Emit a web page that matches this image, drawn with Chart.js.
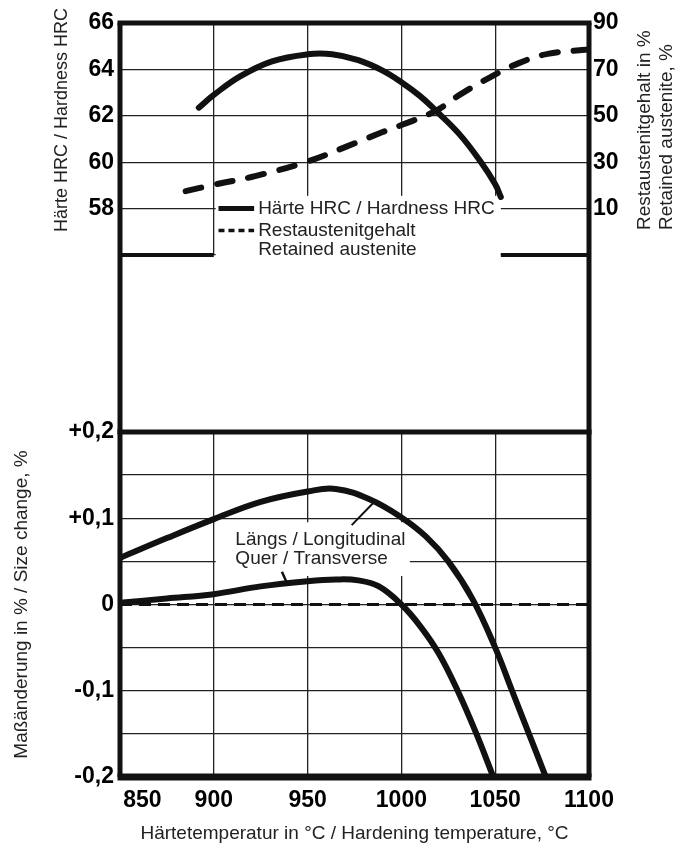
<!DOCTYPE html>
<html>
<head>
<meta charset="utf-8">
<script src="https://cdn.jsdelivr.net/npm/chart.js@4.4.1/dist/chart.umd.min.js"></script>
<style>
  html, body { margin: 0; padding: 0; background: #fff; }
  #wrap { position: relative; width: 682px; height: 845px; }
  #wrap canvas { position: absolute; left: 0; top: 0; }
</style>
</head>
<body>
<div id="wrap">
  <canvas id="sizechart" width="682" height="845"></canvas>
  <canvas id="hardchart" width="682" height="845"></canvas>
</div>
<script>
// top panel: hardness and retained austenite vs hardening temperature
const hardnessTemp = [892, 900, 914, 931, 950, 963, 977, 990, 1000, 1010, 1018, 1031, 1042, 1050, 1053];
const hardnessHRC  = [62.35, 62.9, 63.7, 64.35, 64.65, 64.65, 64.4, 63.95, 63.45, 62.85, 62.25, 61.2, 60.05, 59.05, 58.5];
const austeniteTemp = [885, 900, 922, 950, 970, 990, 1000, 1018, 1031, 1047, 1062, 1078, 1100];
const austenitePct  = [17.5, 20.3, 24, 30.3, 36.5, 43, 46, 52, 59, 66.5, 72.5, 76.7, 78.6];

// bottom panel: size change
const longTemp   = [850, 875, 900, 925, 950, 965, 983, 1000, 1013, 1025, 1038, 1050, 1059, 1068, 1077];
const longChange = [0.054, 0.077, 0.099, 0.119, 0.131, 0.134, 0.122, 0.101, 0.079, 0.05, 0.006, -0.05, -0.1, -0.15, -0.2];
const transTemp   = [850, 875, 900, 925, 950, 965, 977, 988, 1000, 1010, 1020, 1030, 1040, 1049];
const transChange = [0.002, 0.007, 0.012, 0.021, 0.027, 0.029, 0.028, 0.021, 0.0, -0.025, -0.057, -0.1, -0.15, -0.2];
const zeroTemp   = [850, 1100];
const zeroChange = [0, 0];

const hrcTicks = [58, 60, 62, 64, 66];
const austeniteTicks = [10, 30, 50, 70, 90];
const changeTicks = [0.2, 0.1, 0, -0.1, -0.2];

const legendLines = ['Härte HRC / Hardness HRC', 'Restaustenitgehalt', 'Retained austenite'];
const curveNotes = ['Längs / Longitudinal', 'Quer / Transverse'];

// page layout
const W = 682, H = 845;
const PLOT_LEFT = 120, PLOT_RIGHT = 589;
const TOP_Y = 23, TOP_BOTTOM = 255;
const BOT_TOP = 432, BOT_BOTTOM = 777;

const FAMILY = "'Liberation Sans', Arial, sans-serif";
Chart.defaults.font.family = FAMILY;
const tickFont = { size: 23, weight: 'bold' };
const gridStyle = { color: '#222', lineWidth: 1.3, drawTicks: false };

const pts = (xs, ys) => xs.map((x, i) => ({ x: x, y: ys[i] }));

function line(ctx, x1, y1, x2, y2, w) {
  ctx.beginPath();
  ctx.lineWidth = w;
  ctx.moveTo(x1, y1);
  ctx.lineTo(x2, y2);
  ctx.stroke();
}

const hardnessDecor = {
  id: 'hardnessDecor',
  beforeDatasetsDraw(chart) {
    const { ctx, scales: { x, y } } = chart;
    // white box behind the legend
    ctx.save();
    ctx.fillStyle = '#fff';
    const x0 = x.getPixelForValue(901), x1 = x.getPixelForValue(1053);
    const y0 = y.getPixelForValue(58.55);
    ctx.fillRect(x0, y0, x1 - x0, TOP_BOTTOM + 10 - y0);
    ctx.restore();
  },
  afterDatasetsDraw(chart) {
    const { ctx, chartArea: a, scales: { x, y } } = chart;
    ctx.save();
    ctx.strokeStyle = '#111';
    // legend
    const lx0 = x.getPixelForValue(902.5), lx1 = x.getPixelForValue(921.5);
    const ly = y.getPixelForValue(58);
    line(ctx, lx0, ly, lx1, ly, 5);
    ctx.setLineDash([6, 4]);
    line(ctx, lx0, ly + 22, lx1, ly + 22, 3.5);
    ctx.setLineDash([]);
    ctx.fillStyle = '#222';
    ctx.font = '19px ' + FAMILY;
    ctx.textBaseline = 'middle';
    ctx.textAlign = 'left';
    legendLines.forEach((t, i) => ctx.fillText(t, lx1 + 4, ly + [0, 22, 41][i]));

    // frame
    ctx.strokeStyle = '#111';
    line(ctx, a.left - 2.5, a.top, a.right + 2.5, a.top, 5);
    line(ctx, a.left, a.top, a.left, BOT_TOP, 5);
    line(ctx, a.right, a.top, a.right, BOT_TOP, 5);
    line(ctx, a.left, a.bottom, x.getPixelForValue(900), a.bottom, 4);
    line(ctx, x.getPixelForValue(1053), a.bottom, a.right, a.bottom, 4);

    // axis titles
    ctx.fillStyle = '#222';
    ctx.font = '18px ' + FAMILY;
    ctx.translate(62, 120);
    ctx.rotate(-Math.PI / 2);
    ctx.textAlign = 'center';
    ctx.fillText('Härte HRC / Hardness HRC', 0, 0);
    ctx.font = '19px ' + FAMILY;
    ctx.textAlign = 'left';
    ['Restaustenitgehalt in %', 'Retained austenite, %'].forEach((t, i) => {
      ctx.setTransform(1, 0, 0, 1, 0, 0);
      ctx.translate(645 + i * 22, 230);
      ctx.rotate(-Math.PI / 2);
      ctx.fillText(t, 0, 0);
    });
    ctx.restore();
  }
};

const sizeDecor = {
  id: 'sizeDecor',
  beforeDatasetsDraw(chart) {
    const { ctx, scales: { x, y } } = chart;
    ctx.save();
    // white label box over the grid
    const bx0 = x.getPixelForValue(901), bx1 = x.getPixelForValue(1004.5);
    const by0 = y.getPixelForValue(0.0955), by1 = y.getPixelForValue(0.033);
    ctx.fillStyle = '#fff';
    ctx.beginPath();
    ctx.roundRect(bx0, by0, bx1 - bx0, by1 - by0, 8);
    ctx.fill();
    ctx.fillStyle = '#222';
    ctx.font = '19px ' + FAMILY;
    ctx.textBaseline = 'middle';
    ctx.textAlign = 'left';
    const tx = x.getPixelForValue(911.5);
    ctx.fillText(curveNotes[0], tx, y.getPixelForValue(0.075));
    ctx.fillText(curveNotes[1], tx, y.getPixelForValue(0.053));
    // leader lines to the curves
    ctx.strokeStyle = '#111';
    line(ctx, x.getPixelForValue(973.5), y.getPixelForValue(0.092),
              x.getPixelForValue(986), y.getPixelForValue(0.12), 2);
    line(ctx, x.getPixelForValue(936.3), y.getPixelForValue(0.038),
              x.getPixelForValue(939), y.getPixelForValue(0.025), 2.5);
    ctx.restore();
  },
  afterDatasetsDraw(chart) {
    const { ctx, chartArea: a } = chart;
    ctx.save();
    ctx.strokeStyle = '#111';
    line(ctx, a.left - 2.5, a.top, a.right + 2.5, a.top, 5);
    line(ctx, a.left, a.top, a.left, a.bottom, 5);
    line(ctx, a.right, a.top, a.right, a.bottom, 5);
    line(ctx, a.left - 2.5, a.bottom, a.right + 2.5, a.bottom, 7);
    ctx.restore();
  }
};

const hardchart = new Chart(document.getElementById('hardchart').getContext('2d'), {
  type: 'line',
  data: {
    datasets: [{
      label: legendLines[0],
      data: pts(hardnessTemp, hardnessHRC),
      yAxisID: 'y',
      borderColor: '#111',
      borderWidth: 6,
      borderCapStyle: 'round',
      pointRadius: 0,
      tension: 0.4
    }, {
      label: legendLines[1],
      data: pts(austeniteTemp, austenitePct),
      yAxisID: 'y1',
      borderColor: '#111',
      borderWidth: 6,
      borderDash: [16, 16],
      borderCapStyle: 'round',
      pointRadius: 0,
      tension: 0.4
    }]
  },
  options: {
    responsive: false,
    animation: false,
    layout: { padding: { left: 0, right: 0, top: TOP_Y, bottom: H - TOP_BOTTOM } },
    plugins: { legend: { display: false }, tooltip: { enabled: false } },
    scales: {
      x: {
        type: 'linear', min: 850, max: 1100,
        ticks: { display: false, stepSize: 50 },
        grid: gridStyle,
        border: { display: false },
        afterFit: s => { s.height = 0; }
      },
      y: {
        position: 'left', min: 56, max: 66,
        ticks: { stepSize: 2, padding: 6, color: '#000', font: tickFont,
                 callback: v => hrcTicks.includes(v) ? String(v) : '' },
        grid: gridStyle,
        border: { display: false },
        afterFit: s => { s.width = PLOT_LEFT; }
      },
      y1: {
        position: 'right', min: -10, max: 90,
        ticks: { stepSize: 20, padding: 4, color: '#000', font: tickFont,
                 callback: v => austeniteTicks.includes(v) ? String(v) : '' },
        grid: { drawOnChartArea: false, drawTicks: false },
        border: { display: false },
        afterFit: s => { s.width = W - PLOT_RIGHT; }
      }
    }
  },
  plugins: [hardnessDecor]
});

const changeLabel = v => {
  const c = Math.round(v * 100);
  if (!changeTicks.some(t => Math.round(t * 100) === c)) return '';
  if (c === 0) return '0';
  const s = (c / 100).toFixed(1).replace('.', ',');
  return c > 0 ? '+' + s : s;
};

const sizechart = new Chart(document.getElementById('sizechart').getContext('2d'), {
  type: 'line',
  data: {
    datasets: [{
      label: curveNotes[0],
      data: pts(longTemp, longChange),
      borderColor: '#111',
      borderWidth: 6,
      pointRadius: 0,
      tension: 0.4
    }, {
      label: curveNotes[1],
      data: pts(transTemp, transChange),
      borderColor: '#111',
      borderWidth: 6,
      pointRadius: 0,
      tension: 0.4
    }, {
      label: 'zero',
      data: pts(zeroTemp, zeroChange),
      borderColor: '#111',
      borderWidth: 3,
      borderDash: [12, 7],
      pointRadius: 0
    }]
  },
  options: {
    responsive: false,
    animation: false,
    layout: { padding: { left: 0, right: W - PLOT_RIGHT, top: BOT_TOP, bottom: 0 } },
    plugins: { legend: { display: false }, tooltip: { enabled: false } },
    scales: {
      x: {
        type: 'linear', min: 850, max: 1100,
        ticks: { stepSize: 50, padding: 10, color: '#000', font: tickFont,
                 autoSkip: false, maxRotation: 0,
                 callback: v => v === 850 ? '       850' : String(v) },
        grid: gridStyle,
        border: { display: false },
        title: { display: true, text: 'Härtetemperatur in °C / Hardening temperature, °C',
                 color: '#222', font: { size: 19 }, padding: { top: 0, bottom: 0 } },
        afterFit: s => { s.height = H - BOT_BOTTOM; }
      },
      y: {
        position: 'left', min: -0.2, max: 0.2,
        ticks: { stepSize: 0.05, padding: 6, color: '#000', font: tickFont,
                 autoSkip: false, callback: changeLabel },
        grid: gridStyle,
        border: { display: false },
        title: { display: true, text: 'Maßänderung in % / Size change, %',
                 color: '#222', font: { size: 19 }, padding: { top: 10 } },
        afterFit: s => { s.width = PLOT_LEFT; }
      }
    }
  },
  plugins: [sizeDecor]
});
</script>
</body>
</html>
